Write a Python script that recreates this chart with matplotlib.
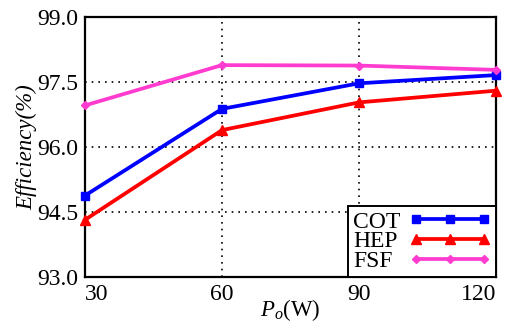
import matplotlib
matplotlib.use("Agg")
import matplotlib.pyplot as plt

plt.rcParams["font.family"] = ["Liberation Serif"]
plt.rcParams["mathtext.fontset"] = "custom"
plt.rcParams["mathtext.rm"] = "Liberation Serif"
plt.rcParams["mathtext.it"] = "Liberation Serif:italic"

power = [30, 60, 90, 120]
cot = [94.88, 96.88, 97.47, 97.66]
hep = [94.32, 96.39, 97.03, 97.30]
fsf = [96.96, 97.89, 97.88, 97.78]
yticks = [93.0, 94.5, 96.0, 97.5, 99.0]

fig = plt.figure(figsize=(5.1, 3.24), dpi=100)
ax = fig.add_axes([0.1667, 0.145, 0.8058, 0.8025])

ax.plot(power, cot, color="#0000ff", lw=2.7, marker="s", ms=6, label="COT", clip_on=False, zorder=4)
ax.plot(power, hep, color="#ff0000", lw=2.7, marker="^", ms=6.5, label="HEP", clip_on=False, zorder=4)
ax.plot(power, fsf, color="#ff3ccf", lw=2.7, marker="D", ms=4.5, label="FSF", clip_on=False, zorder=4)

ax.set_xlim(30, 120)
ax.set_ylim(93, 99)
ax.set_xticks(power)
ax.set_yticks(yticks)
ax.set_yticklabels([f"{v:.1f}" for v in yticks])
ax.grid(True, color="black", ls=(0, (1, 3)), lw=1.2)
ax.tick_params(length=0, labelsize=17, pad=5)
for s in ax.spines.values():
    s.set_linewidth(1.6)
xlabels = ax.get_xticklabels()
xlabels[0].set_ha("left")
xlabels[-1].set_ha("right")

ax.set_xlabel("$P_o$(W)", fontsize=16.5, labelpad=-6)
ax.set_ylabel("Efficiency(%)", fontsize=16.5, style="italic", labelpad=0)

leg = ax.legend(loc="lower right", fontsize=17, markerfirst=False, numpoints=3,
                handlelength=3.5, fancybox=False, framealpha=1, edgecolor="black",
                borderaxespad=0, borderpad=0.2, labelspacing=-0.07, handletextpad=0.35)
leg.get_frame().set_linewidth(1.4)

# left-align the legend labels while keeping the handles aligned on the right
fig.canvas.draw()
widths = [t.get_window_extent().width for t in leg.texts]
wmax = max(widths)
for col in leg._legend_handle_box.get_children():
    col.align = "left"
    for row, w in zip(col.get_children(), widths):
        row.sep = row.sep + (wmax - w) * 72 / fig.dpi

fig.savefig("out.png", dpi=100)
